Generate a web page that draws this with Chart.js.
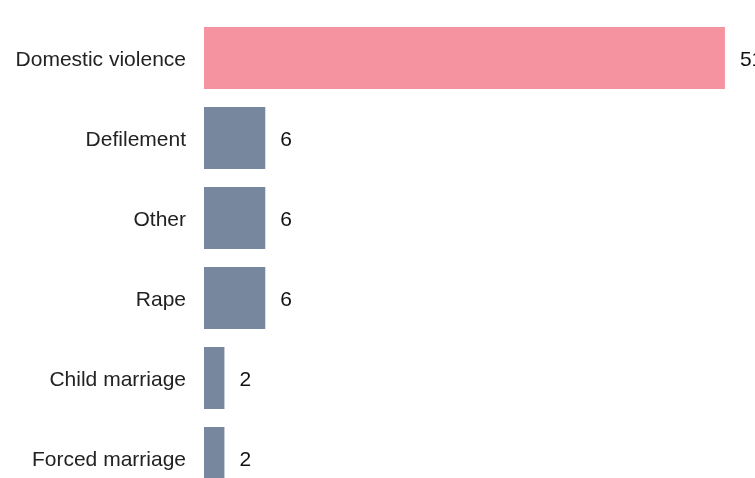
<!DOCTYPE html>
<html>
<head>
<meta charset="utf-8">
<script src="https://cdn.jsdelivr.net/npm/chart.js@4"></script>
<style>
  html, body { margin: 0; padding: 0; background: #fff; overflow: hidden; }
  #wrap { width: 800px; height: 520px; }
</style>
</head>
<body>
<div id="wrap"><canvas id="chart" width="800" height="520"></canvas></div>
<script>
const categories = ['Domestic violence', 'Defilement', 'Other', 'Rape', 'Child marriage', 'Forced marriage'];
const counts = [51, 6, 6, 6, 2, 2];
const highlight = 'Domestic violence';

const pink = 'rgb(245, 148, 160)';
const slate = 'rgb(119, 136, 158)';
const fontFamily = '"Liberation Sans", Arial, Helvetica, sans-serif';

// draws the count to the right of each bar
const valueLabels = {
  id: 'valueLabels',
  afterDatasetsDraw(chart) {
    const ctx = chart.ctx;
    const meta = chart.getDatasetMeta(0);
    ctx.save();
    ctx.font = '21px ' + fontFamily;
    ctx.fillStyle = '#111';
    ctx.textAlign = 'left';
    ctx.textBaseline = 'middle';
    meta.data.forEach((bar, i) => {
      ctx.fillText(String(counts[i]), bar.x + 15, bar.y + 2);
    });
    ctx.restore();
  }
};

new Chart(document.getElementById('chart'), {
  type: 'bar',
  data: {
    labels: categories,
    datasets: [{
      data: counts,
      backgroundColor: categories.map(c => c === highlight ? pink : slate),
      barPercentage: 0.775,
      categoryPercentage: 1
    }]
  },
  options: {
    indexAxis: 'y',
    responsive: false,
    animation: false,
    layout: { padding: { top: 18, left: 0, right: 24, bottom: 22 } },
    plugins: {
      legend: { display: false },
      tooltip: { enabled: false }
    },
    scales: {
      x: {
        display: false,
        min: 0,
        max: 56
      },
      y: {
        grid: { display: false, drawTicks: false },
        border: { display: false },
        ticks: {
          padding: 18,
          labelOffset: 2,
          color: '#222',
          font: { size: 21, family: fontFamily }
        },
        afterFit(scale) {
          scale.width = 204;
          scale.paddingTop = 0;
          scale.paddingBottom = 0;
        }
      }
    }
  },
  plugins: [valueLabels]
});
</script>
</body>
</html>
